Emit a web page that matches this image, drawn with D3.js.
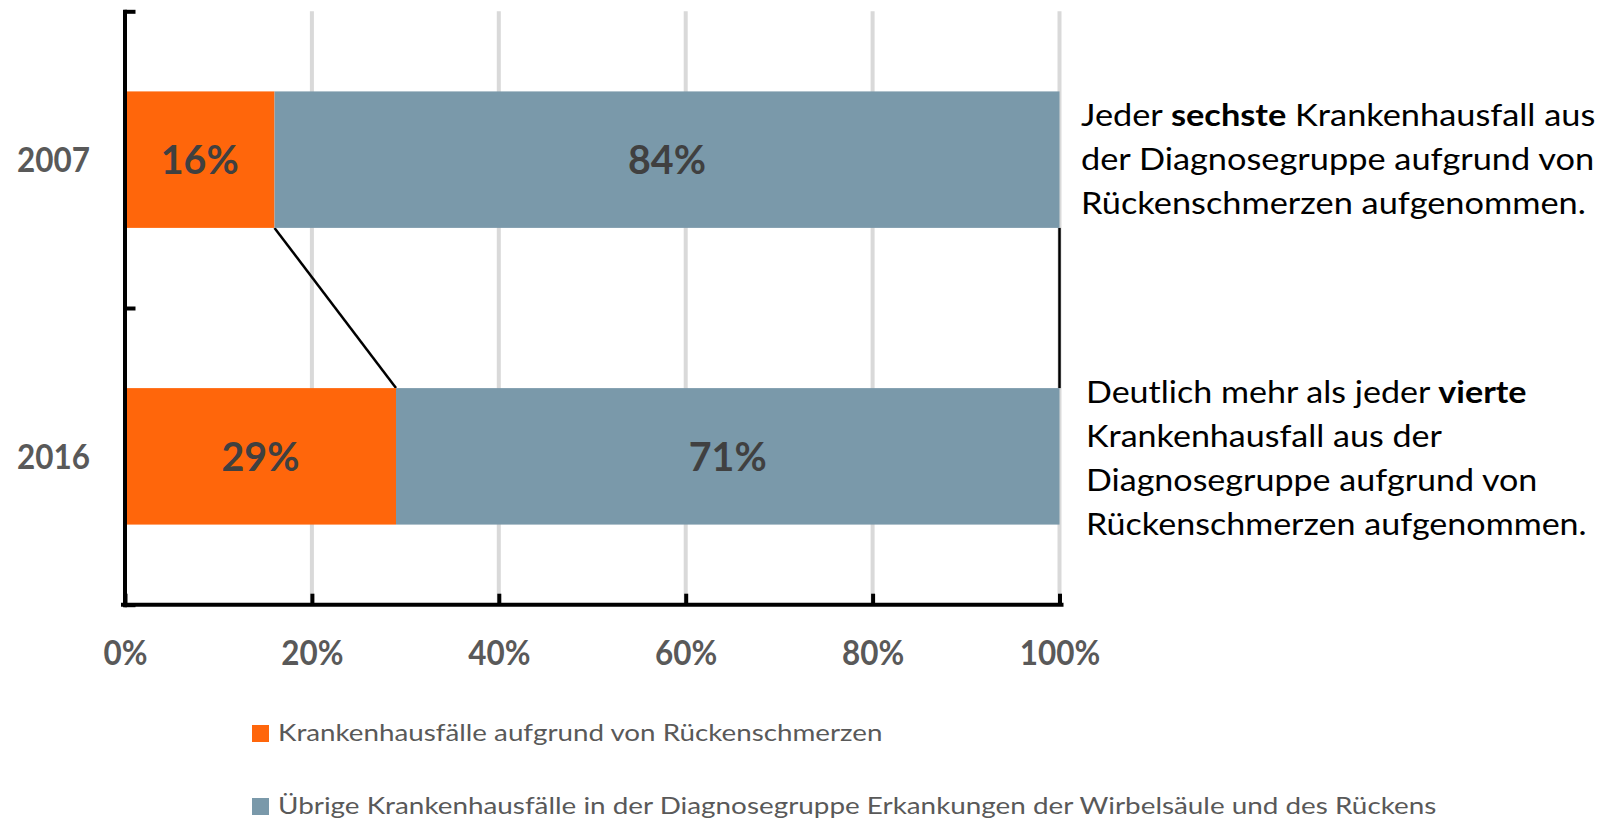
<!DOCTYPE html>
<html><head><meta charset="utf-8">
<script src="https://cdn.jsdelivr.net/npm/d3@7"></script>
<style>body{margin:0;background:#fff}svg{display:block;font-family:Lato,"Open Sans",sans-serif}</style>
</head><body><svg id="chart" width="1598" height="819"></svg>
<script>
// ---- data ----
const categories = ["2007", "2016"];
const backPainShare = [0.16, 0.29];
const otherShare = [0.84, 0.71];
const seriesKeys = ["backPain", "other"];
const seriesNames = [
  "Krankenhausfälle aufgrund von Rückenschmerzen",
  "Übrige Krankenhausfälle in der Diagnosegruppe Erkankungen der Wirbelsäule und des Rückens"
];
const seriesColors = ["#ff660b", "#7a99aa"];
const xTickValues = [0, 0.2, 0.4, 0.6, 0.8, 1];
const xTickLabels = ["0%", "20%", "40%", "60%", "80%", "100%"];
const note2007 = [
  [["Jeder ", 0], ["sechste", 1], [" Krankenhausfall aus", 0]],
  [["der Diagnosegruppe aufgrund von", 0]],
  [["Rückenschmerzen aufgenommen.", 0]]
];
const note2016 = [
  [["Deutlich mehr als jeder ", 0], ["vierte", 1]],
  [["Krankenhausfall aus der", 0]],
  [["Diagnosegruppe aufgrund von", 0]],
  [["Rückenschmerzen aufgenommen.", 0]]
];

// ---- layout ----
const svg = d3.select("#chart");
const x0 = 125, x1 = 1059.5, yTop = 11.3, yBot = 604.7;
const x = d3.scaleLinear().domain([0, 1]).range([x0, x1]);
const y = d3.scaleBand().domain(categories).range([yTop, yBot]).paddingInner(0.54).paddingOuter(0.27);
const yEdges = d3.scaleLinear().domain([0, categories.length]).range([yTop, yBot]);

function fitX(sel, ax, targetW) {
  const w = sel.node().getBBox().width;
  const s = targetW / w;
  sel.attr("transform", `translate(${ax},0) scale(${s},1) translate(${-ax},0)`);
  return s;
}

// gridlines
svg.append("g").selectAll("line").data(xTickValues.filter(d => d > 0)).join("line")
  .attr("x1", d => x(d)).attr("x2", d => x(d))
  .attr("y1", yTop).attr("y2", yBot)
  .attr("stroke", "#d9d9d9").attr("stroke-width", 4);

// stacked data
const rows = categories.map((c, i) => ({cat: c, backPain: backPainShare[i], other: otherShare[i]}));
const stacked = d3.stack().keys(seriesKeys)(rows);

// series lines
const bw = y.bandwidth();
const sl = svg.append("g");
stacked.forEach(layer => {
  for (let i = 0; i < layer.length - 1; i++) {
    sl.append("line")
      .attr("x1", x(layer[i][1])).attr("y1", y(categories[i]) + bw)
      .attr("x2", x(layer[i + 1][1])).attr("y2", y(categories[i + 1]))
      .attr("stroke", "#000").attr("stroke-width", 2.5);
  }
});

// bars
const barG = svg.append("g");
stacked.forEach((layer, si) => {
  barG.selectAll(null).data(layer).join("rect")
    .attr("x", d => x(d[0])).attr("width", d => x(d[1]) - x(d[0]))
    .attr("y", d => y(d.data.cat)).attr("height", bw)
    .attr("fill", seriesColors[si]);
});

// bar labels
const lblG = svg.append("g");
let barLabelScale = null;
stacked.forEach(layer => {
  layer.forEach(d => {
    const cx = (x(d[0]) + x(d[1])) / 2;
    const t = lblG.append("text")
      .attr("x", cx).attr("y", y(d.data.cat) + bw / 2 + 14.5)
      .attr("text-anchor", "middle")
      .attr("font-size", 40).attr("font-weight", 700).attr("fill", "#404040")
      .text(Math.round((d[1] - d[0]) * 100) + "%");
    if (barLabelScale === null) barLabelScale = fitX(t, cx, 78);
    else t.attr("transform", `translate(${cx},0) scale(${barLabelScale},1) translate(${-cx},0)`);
  });
});

// y axis (boundaries ticks)
const yAxisG = svg.append("g").attr("transform", `translate(${x0 - 0.5},0)`)
  .call(d3.axisLeft(yEdges).tickValues(d3.range(categories.length + 1)).tickSize(-11).tickSizeOuter(0).tickFormat(""));
yAxisG.select(".domain").attr("stroke", "#000").attr("stroke-width", 4).attr("stroke-linecap", "square");
yAxisG.selectAll(".tick line").attr("stroke", "#000").attr("stroke-width", 4);

// x axis
const xAxisG = svg.append("g").attr("transform", `translate(0,${yBot})`)
  .call(d3.axisBottom(x).tickValues(xTickValues).tickSize(-11).tickSizeOuter(0)
    .tickFormat((d, i) => xTickLabels[i]));
xAxisG.select(".domain").attr("stroke", "#000").attr("stroke-width", 4).attr("stroke-linecap", "square")
  .attr("d", `M${x0 - 2},0H${x1 + 2}`);
xAxisG.selectAll(".tick line").attr("stroke", "#000").attr("stroke-width", 4);
const xt = xAxisG.selectAll(".tick text")
  .attr("y", 665 - yBot).attr("dy", 0)
  .attr("font-family", "Lato, 'Open Sans', sans-serif")
  .attr("font-size", 35).attr("font-weight", 700).attr("fill", "#595959");
let tickScale = null;
xt.each(function(d, i) {
  const s = d3.select(this);
  if (tickScale === null) {
    const w = this.getBBox().width;
    tickScale = 44 / w; // "0%"
  }
  s.attr("transform", `scale(${tickScale},1)`);
});

// category labels
let catScale = null;
svg.append("g").selectAll("text").data(categories).join("text")
  .attr("x", 90).attr("y", d => y(d) + bw / 2 + 12.5)
  .attr("text-anchor", "end")
  .attr("font-size", 35).attr("font-weight", 700).attr("fill", "#595959")
  .text(d => d)
  .each(function() {
    const s = d3.select(this);
    if (catScale === null) catScale = fitX(s, 90, 73);
    else s.attr("transform", `translate(90,0) scale(${catScale},1) translate(-90,0)`);
  });

// annotations
function drawNote(lines, nx, baseY, lineH, refW) {
  const g = svg.append("g");
  const texts = lines.map((parts, i) => {
    const t = g.append("text").attr("x", nx).attr("y", baseY + i * lineH)
      .attr("font-size", 31).attr("fill", "#000");
    parts.forEach(p => t.append("tspan").attr("font-weight", p[1] ? 700 : 400).text(p[0]));
    return t;
  });
  const last = texts[texts.length - 1];
  const s = fitX(last, nx, refW);
  texts.forEach(t => t.attr("transform", `translate(${nx},0) scale(${s},1) translate(${-nx},0)`));
}
drawNote(note2007, 1081, 126, 44, 505);
drawNote(note2016, 1086, 403, 44, 501);

// legend
const legG = svg.append("g");
const legY = [725, 798];
const legW = [605, 1159];
seriesNames.forEach((name, i) => {
  legG.append("rect").attr("x", 252).attr("y", legY[i]).attr("width", 17).attr("height", 17)
    .attr("fill", seriesColors[i]);
  const t = legG.append("text").attr("x", 278).attr("y", legY[i] + 16.5)
    .attr("font-size", 24).attr("fill", "#595959").text(name);
  fitX(t, 278, legW[i]);
});
</script></body></html>
